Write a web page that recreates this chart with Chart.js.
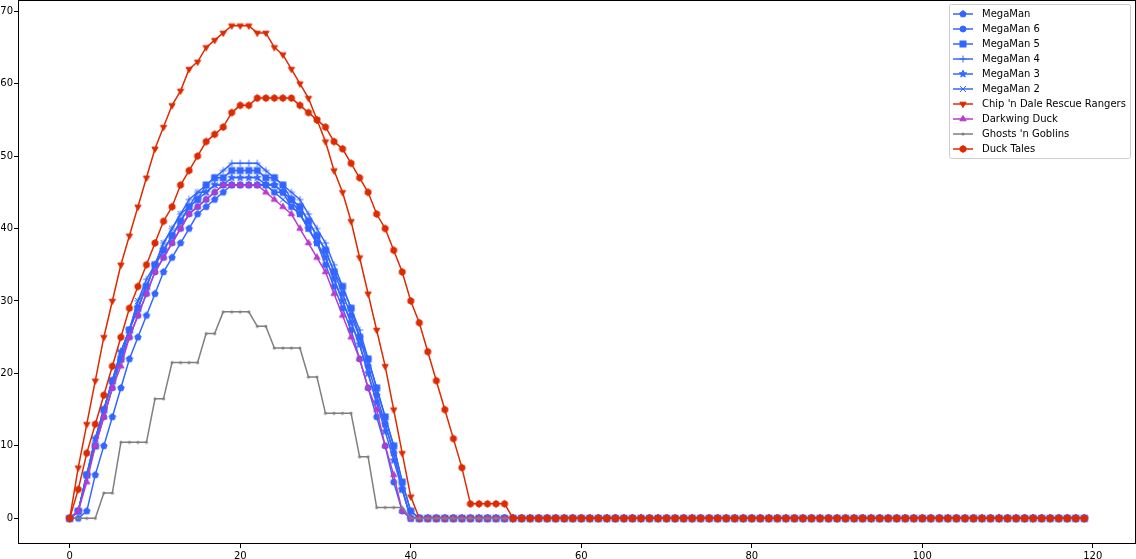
<!DOCTYPE html>
<html>
<head>
<meta charset="utf-8">
<script src="https://cdn.jsdelivr.net/npm/chart.js@4.4.1/dist/chart.umd.min.js"></script>
<style>
  html, body { margin: 0; padding: 0; background: #fff; }
  #wrap { width: 1136px; height: 559px; }
</style>
</head>
<body>
<div id="wrap"><canvas id="chart" width="1136" height="559"></canvas></div>
<script>
// tick labels
var xTicks = [0, 20, 40, 60, 80, 100, 120];
var yTicks = [0, 10, 20, 30, 40, 50, 60, 70];

var seriesNames = ['MegaMan', 'MegaMan 6', 'MegaMan 5', 'MegaMan 4', 'MegaMan 3', 'MegaMan 2',
  "Chip 'n Dale Rescue Rangers", 'Darkwing Duck', "Ghosts 'n Goblins", 'Duck Tales'];

var megaMan = [
  0,0,1,6,10,14,18,22,25,28,
  31,34,36,38,40,42,43,44,45,46,
  46,46,46,46,46,45,44,43,41,39,
  37,34,31,28,25,21,17,13,9,4,
  0,0,0,0,0,0,0,0,0,0,
  0,0,0,0,0,0,0,0,0,0,
  0,0,0,0,0,0,0,0,0,0,
  0,0,0,0,0,0,0,0,0,0,
  0,0,0,0,0,0,0,0,0,0,
  0,0,0,0,0,0,0,0,0,0,
  0,0,0,0,0,0,0,0,0,0,
  0,0,0,0,0,0,0,0,0,0
];
var megaMan6 = [
  0,1,6,10,14,18,22,25,28,31,
  34,36,38,40,42,43,44,45,46,46,
  46,46,46,46,45,45,43,42,40,38,
  35,32,29,26,22,18,14,10,5,1,
  0,0,0,0,0,0,0,0,0,0,
  0,0,0,0,0,0,0,0,0,0,
  0,0,0,0,0,0,0,0,0,0,
  0,0,0,0,0,0,0,0,0,0,
  0,0,0,0,0,0,0,0,0,0,
  0,0,0,0,0,0,0,0,0,0,
  0,0,0,0,0,0,0,0,0,0,
  0,0,0,0,0,0,0,0,0,0
];
var megaMan5 = [
  0,1,6,10,15,19,22,26,29,32,
  35,37,39,41,43,44,46,47,47,48,
  48,48,48,47,47,46,44,43,41,39,
  37,34,32,29,25,22,18,14,10,5,
  1,0,0,0,0,0,0,0,0,0,
  0,0,0,0,0,0,0,0,0,0,
  0,0,0,0,0,0,0,0,0,0,
  0,0,0,0,0,0,0,0,0,0,
  0,0,0,0,0,0,0,0,0,0,
  0,0,0,0,0,0,0,0,0,0,
  0,0,0,0,0,0,0,0,0,0,
  0,0,0,0,0,0,0,0,0,0
];
var megaMan4 = [
  0,1,6,11,15,19,23,26,30,33,
  35,38,40,42,44,45,46,47,48,49,
  49,49,49,48,47,46,45,44,42,40,
  38,35,32,29,26,22,18,14,10,5,
  1,0,0,0,0,0,0,0,0,0,
  0,0,0,0,0,0,0,0,0,0,
  0,0,0,0,0,0,0,0,0,0,
  0,0,0,0,0,0,0,0,0,0,
  0,0,0,0,0,0,0,0,0,0,
  0,0,0,0,0,0,0,0,0,0,
  0,0,0,0,0,0,0,0,0,0,
  0,0,0,0,0,0,0,0,0,0
];
var megaMan3 = [
  0,1,6,11,15,19,23,26,29,32,
  35,37,39,41,43,44,45,46,46,47,
  47,47,47,46,46,45,44,42,40,38,
  36,33,30,27,24,20,16,12,8,4,
  0,0,0,0,0,0,0,0,0,0,
  0,0,0,0,0,0,0,0,0,0,
  0,0,0,0,0,0,0,0,0,0,
  0,0,0,0,0,0,0,0,0,0,
  0,0,0,0,0,0,0,0,0,0,
  0,0,0,0,0,0,0,0,0,0,
  0,0,0,0,0,0,0,0,0,0,
  0,0,0,0,0,0,0,0,0,0
];
var megaMan2 = [
  0,1,6,11,15,19,23,26,30,32,
  35,38,40,42,43,45,45,46,46,46,
  46,46,46,46,45,44,43,42,40,38,
  36,33,30,27,24,20,16,13,9,4,
  0,0,0,0,0,0,0,0,0,0,
  0,0,0,0,0,0,0,0,0,0,
  0,0,0,0,0,0,0,0,0,0,
  0,0,0,0,0,0,0,0,0,0,
  0,0,0,0,0,0,0,0,0,0,
  0,0,0,0,0,0,0,0,0,0,
  0,0,0,0,0,0,0,0,0,0,
  0,0,0,0,0,0,0,0,0,0
];
var chipNDale = [
  0,7,13,19,25,30,35,39,43,47,
  51,54,57,59,62,63,65,66,67,68,
  68,68,67,67,65,64,62,60,58,55,
  52,48,45,41,36,31,26,21,15,9,
  3,0,0,0,0,0,0,0,0,0,
  0,0,0,0,0,0,0,0,0,0,
  0,0,0,0,0,0,0,0,0,0,
  0,0,0,0,0,0,0,0,0,0,
  0,0,0,0,0,0,0,0,0,0,
  0,0,0,0,0,0,0,0,0,0,
  0,0,0,0,0,0,0,0,0,0,
  0,0,0,0,0,0,0,0,0,0
];
var darkwingDuck = [
  0,1,5,10,14,18,21,25,28,31,
  34,36,38,40,42,43,44,45,46,46,
  46,46,46,45,44,43,42,40,38,36,
  34,31,28,25,22,18,15,10,6,1,
  0,0,0,0,0,0,0,0,0,0,
  0,0,0,0,0,0,0,0,0,0,
  0,0,0,0,0,0,0,0,0,0,
  0,0,0,0,0,0,0,0,0,0,
  0,0,0,0,0,0,0,0,0,0,
  0,0,0,0,0,0,0,0,0,0,
  0,0,0,0,0,0,0,0,0,0,
  0,0,0,0,0,0,0,0,0,0
];
var ghostsNGoblins = [
  0,0,0,0,3.5,3.5,10.5,10.5,10.5,10.5,
  16.5,16.5,21.5,21.5,21.5,21.5,25.5,25.5,28.5,28.5,
  28.5,28.5,26.5,26.5,23.5,23.5,23.5,23.5,19.5,19.5,
  14.5,14.5,14.5,14.5,8.5,8.5,1.5,1.5,1.5,1.5,
  0,0,0,0,0,0,0,0,0,0,
  0,0,0,0,0,0,0,0,0,0,
  0,0,0,0,0,0,0,0,0,0,
  0,0,0,0,0,0,0,0,0,0,
  0,0,0,0,0,0,0,0,0,0,
  0,0,0,0,0,0,0,0,0,0,
  0,0,0,0,0,0,0,0,0,0,
  0,0,0,0,0,0,0,0,0,0
];
var duckTales = [
  0,4,9,13,17,21,25,29,32,35,
  38,41,43,46,48,50,52,53,54,56,
  57,57,58,58,58,58,58,57,56,55,
  54,52,51,49,47,45,42,40,37,34,
  30,27,23,19,15,11,7,2,2,2,
  2,2,0,0,0,0,0,0,0,0,
  0,0,0,0,0,0,0,0,0,0,
  0,0,0,0,0,0,0,0,0,0,
  0,0,0,0,0,0,0,0,0,0,
  0,0,0,0,0,0,0,0,0,0,
  0,0,0,0,0,0,0,0,0,0,
  0,0,0,0,0,0,0,0,0,0
];

var BLUE = '#3366ff', RED = '#dd2a00', PURPLE = '#b83acc', GRAY = '#7f7f7f';

var seriesValues = [megaMan, megaMan6, megaMan5, megaMan4, megaMan3, megaMan2,
  chipNDale, darkwingDuck, ghostsNGoblins, duckTales];
var seriesColors = [BLUE, BLUE, BLUE, BLUE, BLUE, BLUE, RED, PURPLE, GRAY, RED];
var seriesMarkers = ['pentagon', 'circle', 'square', 'plus', 'star', 'x', 'down', 'up', 'dot', 'hexagon'];

// little canvases that look like the matplotlib markers
function polyPath(g, n, r, startDeg) {
  g.beginPath();
  for (var k = 0; k < n; k++) {
    var a = (startDeg + k * 360 / n) * Math.PI / 180;
    var px = r * Math.cos(a), py = r * Math.sin(a);
    if (k === 0) g.moveTo(px, py); else g.lineTo(px, py);
  }
  g.closePath();
}
function makeMarker(kind, color) {
  var c = document.createElement('canvas');
  c.width = 14; c.height = 14;
  var g = c.getContext('2d');
  g.translate(7, 7);
  g.fillStyle = color;
  g.strokeStyle = color;
  g.lineWidth = 1;
  if (kind === 'pentagon') { polyPath(g, 5, 3.4, -90); g.fill(); g.stroke(); }
  else if (kind === 'hexagon') { polyPath(g, 6, 3.4, -90); g.fill(); g.stroke(); }
  else if (kind === 'circle') { g.beginPath(); g.arc(0, 0, 3, 0, Math.PI * 2); g.fill(); g.stroke(); }
  else if (kind === 'square') { g.fillRect(-3, -3, 6, 6); g.strokeRect(-3, -3, 6, 6); }
  else if (kind === 'down') { polyPath(g, 3, 3.6, 90); g.fill(); g.stroke(); }
  else if (kind === 'up') { polyPath(g, 3, 3.6, -90); g.fill(); g.stroke(); }
  else if (kind === 'dot') { g.beginPath(); g.arc(0, 0, 1.5, 0, Math.PI * 2); g.fill(); }
  else if (kind === 'plus') {
    g.beginPath(); g.moveTo(-3.5, 0); g.lineTo(3.5, 0); g.moveTo(0, -3.5); g.lineTo(0, 3.5); g.stroke();
  }
  else if (kind === 'x') {
    g.beginPath(); g.moveTo(-3, -3); g.lineTo(3, 3); g.moveTo(-3, 3); g.lineTo(3, -3); g.stroke();
  }
  else if (kind === 'star') {
    g.beginPath();
    for (var k = 0; k < 10; k++) {
      var r = k % 2 === 0 ? 3.8 : 1.6;
      var a = (-90 + k * 36) * Math.PI / 180;
      if (k === 0) g.moveTo(r * Math.cos(a), r * Math.sin(a)); else g.lineTo(r * Math.cos(a), r * Math.sin(a));
    }
    g.closePath(); g.fill(); g.stroke();
  }
  return c;
}

var markerImgs = seriesMarkers.map(function(m, i) { return makeMarker(m, seriesColors[i]); });

var datasets = seriesNames.map(function(name, i) {
  return {
    label: name,
    data: seriesValues[i].map(function(v, k) { return { x: k, y: v }; }),
    borderColor: seriesColors[i],
    backgroundColor: seriesColors[i],
    borderWidth: 1.5,
    pointStyle: markerImgs[i],
    pointRadius: 3,
    pointHoverRadius: 3,
    tension: 0,
    fill: false,
    order: seriesNames.length - i
  };
});

var framePlugin = {
  id: 'frame',
  afterDatasetsDraw: function(chart) {
    var a = chart.chartArea, c = chart.ctx;
    c.save();
    c.strokeStyle = '#000';
    c.lineWidth = 1;
    c.strokeRect(Math.round(a.left) - 0.5, Math.round(a.top) - 0.5,
      Math.round(a.right - a.left) + 1, Math.round(a.bottom - a.top) + 1);
    c.restore();
  }
};

var legendPlugin = {
  id: 'mplLegend',
  afterDraw: function(chart) {
    var c = chart.ctx;
    var bx = 949.5, by = 4.5, bw = 181, bh = 154;
    c.save();
    c.fillStyle = 'rgba(255,255,255,0.85)';
    c.strokeStyle = '#cccccc';
    c.lineWidth = 1;
    c.beginPath();
    c.moveTo(bx + 2, by);
    c.arcTo(bx + bw, by, bx + bw, by + bh, 2);
    c.arcTo(bx + bw, by + bh, bx, by + bh, 2);
    c.arcTo(bx, by + bh, bx, by, 2);
    c.arcTo(bx, by, bx + bw, by, 2);
    c.closePath();
    c.fill();
    c.stroke();
    c.font = '10px "DejaVu Sans"';
    c.textBaseline = 'middle';
    c.textAlign = 'left';
    for (var i = 0; i < seriesNames.length; i++) {
      var y = 14 + i * 15;
      c.strokeStyle = seriesColors[i];
      c.lineWidth = 1.5;
      c.beginPath();
      c.moveTo(953, y);
      c.lineTo(973, y);
      c.stroke();
      c.drawImage(markerImgs[i], 963 - 7, y - 7);
      c.fillStyle = '#000';
      c.fillText(seriesNames[i], 982, y + 0.5);
    }
    c.restore();
  }
};

var tickFont = { family: 'DejaVu Sans', size: 10 };

var ctx = document.getElementById('chart').getContext('2d');
var chart = new Chart(ctx, {
  type: 'line',
  data: { datasets: datasets },
  options: {
    responsive: false,
    animation: false,
    devicePixelRatio: 1,
    layout: { autoPadding: false, padding: { left: 1, right: 1, top: 1, bottom: 0 } },
    plugins: { legend: { display: false }, tooltip: { enabled: false } },
    scales: {
      x: {
        type: 'linear',
        min: -5.95,
        max: 124.95,
        afterBuildTicks: function(s) { s.ticks = xTicks.map(function(v) { return { value: v }; }); },
        afterFit: function(s) { s.height = 16; s.paddingLeft = 0; s.paddingRight = 0; },
        grid: { display: true, drawOnChartArea: false, tickLength: 5, color: '#000', lineWidth: 1 },
        border: { display: false },
        ticks: { padding: 2, color: '#000', font: tickFont, maxRotation: 0, autoSkip: false }
      },
      y: {
        min: -3.4,
        max: 71.4,
        afterBuildTicks: function(s) { s.ticks = yTicks.map(function(v) { return { value: v }; }); },
        afterFit: function(s) { s.width = 18; s.paddingTop = 0; s.paddingBottom = 0; },
        grid: { display: true, drawOnChartArea: false, tickLength: 5, color: '#000', lineWidth: 1 },
        border: { display: false },
        ticks: { padding: 1, color: '#000', font: tickFont, autoSkip: false }
      }
    }
  },
  plugins: [framePlugin, legendPlugin]
});
</script>
</body>
</html>
